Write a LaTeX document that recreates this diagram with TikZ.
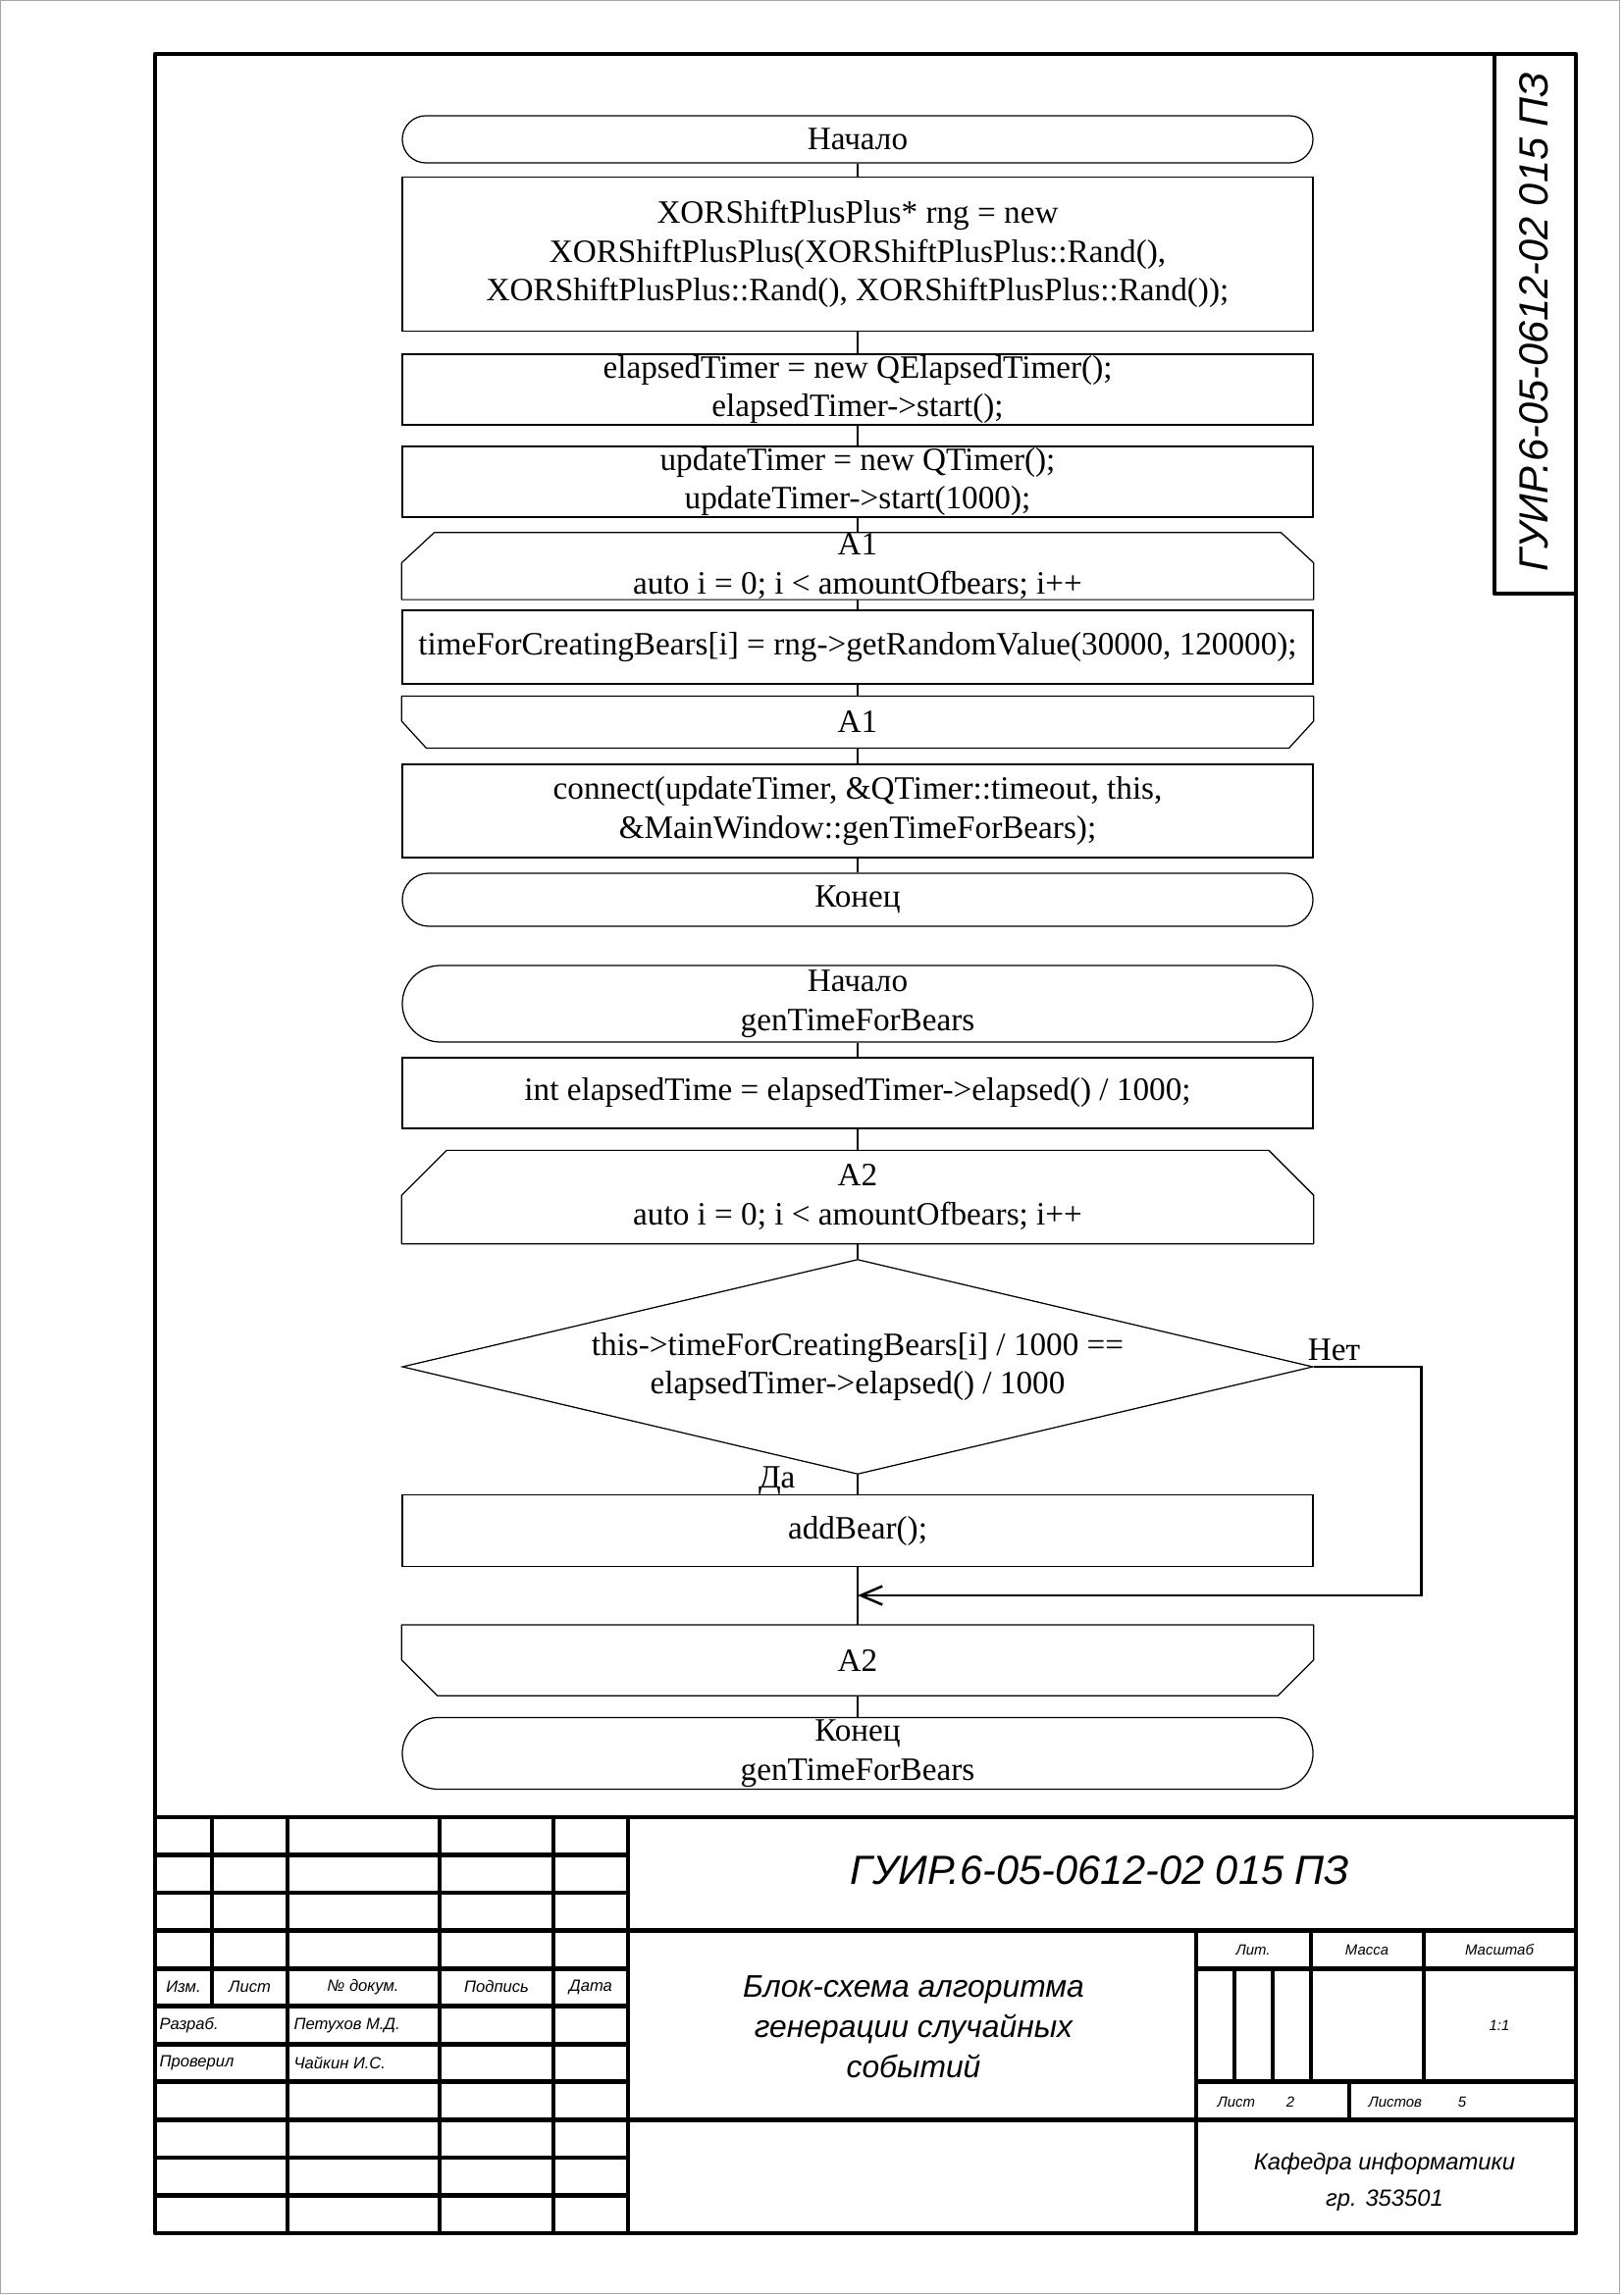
\documentclass[tikz,border=0pt]{standalone}
\usepackage{fontspec}
\setmainfont{Liberation Serif}
\newfontfamily\gostfont{Liberation Sans}
\usetikzlibrary{positioning, shapes.geometric, arrows.meta}

\begin{document}
\begin{tikzpicture}[
    x=0.127mm, y=-0.127mm,
    every node/.style={font=\fontsize{12}{14.3}\selectfont},
    block/.style={draw, line width=0.45pt, minimum width=117.86mm, inner sep=0pt, align=center},
    terminal/.style={block, rounded corners=#1},
    loopbox/.style={block, draw=none},
    outline/.style={line width=0.45pt, line join=round},
    cond/.style={diamond, draw, line width=0.45pt, aspect=4.237, inner sep=0pt,
                 minimum width=117.86mm, minimum height=27.81mm, align=center},
    line/.style={line width=0.6pt},
    backline/.style={line width=0.9pt, -{Straight Barb[length=2.8mm, width=2.4mm]}},
    answer/.style={inner sep=0pt},
    frame/.style={line width=1.7pt, line join=round},
    gost/.style={font=\gostfont\itshape\fontsize{6}{7}\selectfont, inner sep=0pt},
    gostsmall/.style={font=\gostfont\itshape\fontsize{5.4}{6.5}\selectfont, inner sep=0pt},
    gostbig/.style={font=\gostfont\itshape\fontsize{15}{18}\selectfont, inner sep=0pt},
    gostmid/.style={font=\gostfont\itshape\fontsize{8.6}{13.3}\selectfont, inner sep=0pt, align=center},
    gosttitle/.style={font=\gostfont\itshape\fontsize{11.5}{14.8}\selectfont, inner sep=0pt, align=center}
  ]
  \useasboundingbox (0,0) rectangle (1654,2339);
  \draw[gray!70, line width=0.3pt] (0.5,0.5) rectangle (1650,2337);

  % Frame and stamp
  \draw[frame] (158,55) rectangle (1606,2276);
  \draw[frame] (1523,55) -- (1523,605) -- (1606,605);
  \draw[frame] (158,1852) -- (1606,1852);
  \foreach \k in {1,...,10}
    \draw[frame] (158,{1852+38.545*\k}) -- (640,{1852+38.545*\k});
  \draw[frame] (216,1852) -- (216,2044.7);
  \foreach \xx in {293,448,564,640}
    \draw[frame] (\xx,1852) -- (\xx,2276);
  \draw[frame] (640,1967.6) -- (1606,1967.6);
  \draw[frame] (640,2160.4) -- (1606,2160.4);
  \draw[frame] (1219,1967.6) -- (1219,2276);
  \draw[frame] (1219,2006.2) -- (1606,2006.2);
  \draw[frame] (1219,2121.8) -- (1606,2121.8);
  \foreach \xx in {1336,1451}
    \draw[frame] (\xx,1967.6) -- (\xx,2121.8);
  \foreach \xx in {1258,1297}
    \draw[frame] (\xx,2006.2) -- (\xx,2121.8);
  \draw[frame] (1375,2121.8) -- (1375,2160.4);

  % Stamp texts
  \node[gostbig, rotate=90] (sidecode) at (1563,328) {ГУИР.6-05-0612-02 015 ПЗ};
  \node[gostbig] (code) at (1121,1906) {ГУИР.6-05-0612-02 015 ПЗ};
  \node[gosttitle] (title) at (931,2066) {Блок-схема алгоритма\\генерации случайных\\событий};
  \node[gost] (izm) at (187,2025) {Изм.};
  \node[gost] (list) at (254.5,2025) {Лист};
  \node[gost] (ndoc) at (370,2025) {№ докум.};
  \node[gost] (sign) at (506,2025) {Подпись};
  \node[gost] (date) at (602,2025) {Дата};
  \node[gost, anchor=west] (dev) at (162,2064) {Разраб.};
  \node[gost, anchor=west] (devname) at (299,2064) {Петухов М.Д.};
  \node[gost, anchor=west] (chk) at (162,2102) {Проверил};
  \node[gost, anchor=west] (chkname) at (299,2102) {Чайкин И.С.};
  \node[gostsmall] (lit) at (1277,1987) {Лит.};
  \node[gostsmall] (mass) at (1393,1987) {Масса};
  \node[gostsmall] (scale) at (1528,1987) {Масштаб};
  \node[gostsmall] (scaleval) at (1528,2064) {1:1};
  \node[gostsmall, anchor=west] (sheet) at (1240,2142) {Лист};
  \node[gostsmall] (sheetval) at (1315,2142) {2};
  \node[gostsmall, anchor=west] (sheets) at (1394,2142) {Листов};
  \node[gostsmall] (sheetsval) at (1490,2142) {5};
  \node[gostmid] (dept) at (1411,2224) {Кафедра информатики\\гр. 353501};

  % Constructor
  \node[terminal=3.05mm, minimum height=6.10mm] (start1) at (874,142) {Начало};
  \node[block, minimum height=19.94mm] (rng) at (874,259) {XORShiftPlusPlus* rng = new\\XORShiftPlusPlus(XORShiftPlusPlus::Rand(),\\XORShiftPlusPlus::Rand(), XORShiftPlusPlus::Rand());};
  \node[block, minimum height=9.14mm] (elapsed) at (874,397) {elapsedTimer = new QElapsedTimer();\\elapsedTimer->start();};
  \node[block, minimum height=9.14mm] (update) at (874,491) {updateTimer = new QTimer();\\updateTimer->start(1000);};
  \node[loopbox, minimum height=8.51mm] (a1b) at (874,577) {A1\\auto i = 0; i < amountOfbears; i++};
  \node[block, minimum height=9.53mm] (fill) at (874,659.5) {timeForCreatingBears[i] = rng->getRandomValue(30000, 120000);};
  \node[loopbox, minimum height=6.60mm] (a1e) at (874,736) {A1};
  \node[block, minimum height=12.07mm] (conn) at (874,826.5) {connect(updateTimer, \&QTimer::timeout, this,\\\&MainWindow::genTimeForBears);};
  \node[terminal=3.43mm, minimum height=6.86mm] (end1) at (874,917) {Конец};

  \draw[outline] (a1b.south west) -- ([yshift=-3.9mm]a1b.north west) -- ([xshift=4.2mm]a1b.north west)
    -- ([xshift=-4.2mm]a1b.north east) -- ([yshift=-3.9mm]a1b.north east) -- (a1b.south east) -- cycle;
  \draw[outline] (a1e.north west) -- (a1e.north east) -- ([yshift=3.5mm]a1e.south east) -- ([xshift=-3.2mm]a1e.south east)
    -- ([xshift=3.2mm]a1e.south west) -- ([yshift=3.5mm]a1e.south west) -- cycle;

  \draw[line] (start1) -- (rng);
  \draw[line] (rng) -- (elapsed);
  \draw[line] (elapsed) -- (update);
  \draw[line] (update) -- (a1b);
  \draw[line] (a1b) -- (fill);
  \draw[line] (fill) -- (a1e);
  \draw[line] (a1e) -- (conn);
  \draw[line] (conn) -- (end1);

  % genTimeForBears
  \node[terminal=4.95mm, minimum height=9.91mm] (start2) at (874,1023) {Начало\\genTimeForBears};
  \node[block, minimum height=9.14mm] (etime) at (874,1114) {int elapsedTime = elapsedTimer->elapsed() / 1000;};
  \node[loopbox, minimum height=11.94mm] (a2b) at (874,1220) {A2\\auto i = 0; i < amountOfbears; i++};
  \node[cond] (check) at (874,1393) {this->timeForCreatingBears[i] / 1000 ==\\elapsedTimer->elapsed() / 1000};
  \node[block, minimum height=9.27mm] (add) at (874,1560) {addBear();};
  \node[loopbox, minimum height=9.02mm] (a2e) at (874,1692) {A2};
  \node[terminal=4.64mm, minimum height=9.27mm] (end2) at (874,1787) {Конец\\genTimeForBears};
  \coordinate (merge) at (874,1626);

  \draw[outline] (a2b.south west) -- ([yshift=-5.8mm]a2b.north west) -- ([xshift=5.8mm]a2b.north west)
    -- ([xshift=-5.8mm]a2b.north east) -- ([yshift=-5.8mm]a2b.north east) -- (a2b.south east) -- cycle;
  \draw[outline] (a2e.north west) -- (a2e.north east) -- ([yshift=4.6mm]a2e.south east) -- ([xshift=-4.6mm]a2e.south east)
    -- ([xshift=4.6mm]a2e.south west) -- ([yshift=4.6mm]a2e.south west) -- cycle;

  \draw[line] (start2) -- (etime);
  \draw[line] (etime) -- (a2b);
  \draw[line] (a2b) -- (check);
  \draw[line] (check) -- (add);
  \draw[line] (add) -- (a2e);
  \draw[line] (a2e) -- (end2);
  \draw[backline] (check.east) -- ++(110,0) |- (merge);

  \node[answer, anchor=base west] (no) at ([xshift=-0.8mm, yshift=0.8mm]check.east) {Нет};
  \node[answer, anchor=base east] (yes) at ([xshift=-8mm, yshift=-1.7mm]check.south) {Да};
\end{tikzpicture}
\end{document}
